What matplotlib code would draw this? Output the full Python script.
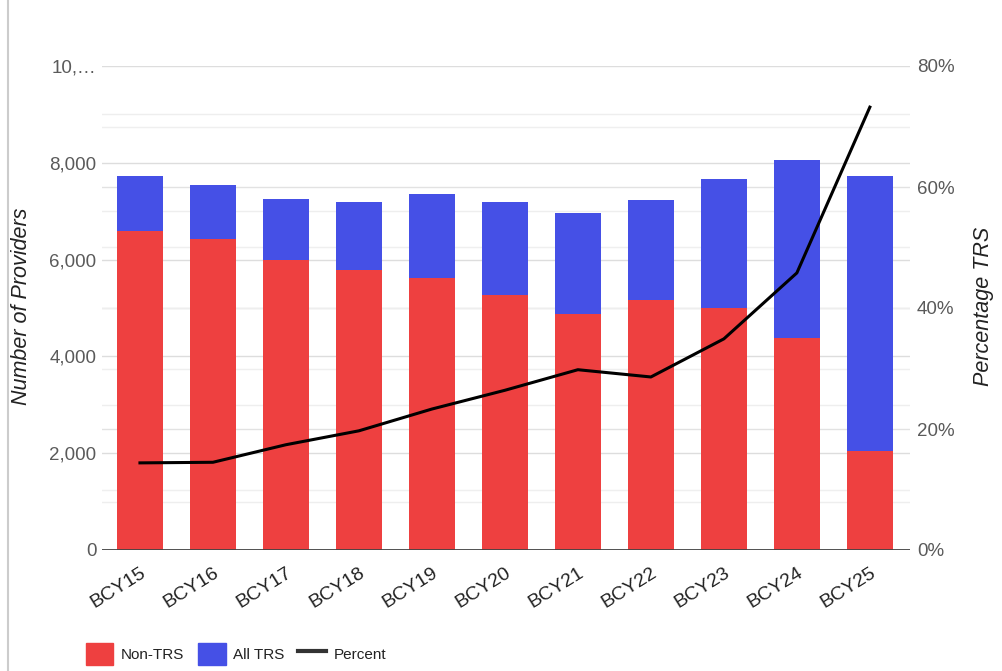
import matplotlib.pyplot as plt
import matplotlib.patches as mpatches
import matplotlib.lines as mlines
import numpy as np

plt.rcParams['font.family'] = ['Liberation Sans', 'DejaVu Sans']

years = ['BCY15', 'BCY16', 'BCY17', 'BCY18', 'BCY19', 'BCY20',
         'BCY21', 'BCY22', 'BCY23', 'BCY24', 'BCY25']
non_trs = [6600, 6430, 6000, 5790, 5630, 5260, 4870, 5160, 4990, 4370, 2040]
all_trs = [1130, 1120, 1260, 1410, 1730, 1940, 2100, 2080, 2680, 3690, 5690]
percent = [0.144, 0.145, 0.174, 0.197, 0.233, 0.264, 0.298, 0.286, 0.349, 0.458, 0.732]

red = '#EE4040'
blue = '#4550E6'

fig = plt.figure(figsize=(10.02, 6.71), dpi=100)
ax = fig.add_axes([102/1002, 1 - 550/671, 808/1002, 484/671])
ax2 = ax.twinx()

x = np.arange(len(years))
ax.bar(x, non_trs, width=0.63, color=red, zorder=3)
ax.bar(x, all_trs, width=0.63, bottom=non_trs, color=blue, zorder=3)

ymax_left = 10000
ymax_right = 0.8
ax.set_xlim(-0.52, 10.55)
ax.set_ylim(0, ymax_left)
ax.set_yticks([0, 2000, 4000, 6000, 8000, 10000])
ax.set_yticklabels(['0', '2,000', '4,000', '6,000', '8,000', '10,…'])
ax.set_yticks(np.arange(1000, 10000, 2000), minor=True)
ax.grid(axis='y', which='major', color='#dddddd', lw=1, zorder=0)
ax.grid(axis='y', which='minor', color='#eeeeee', lw=1, zorder=0)

# right-axis gridlines drawn on the left axes so they stay behind the bars
for t in [0.2, 0.4, 0.6]:
    ax.axhline(t / ymax_right * ymax_left, color='#e2e2e2', lw=1, zorder=0)
for t in [0.1, 0.3, 0.5, 0.7]:
    ax.axhline(t / ymax_right * ymax_left, color='#efefef', lw=1, zorder=0)
ax.axhline(0, color='#444444', lw=1.3, zorder=4)

ax2.set_ylim(0, ymax_right)
ax2.set_yticks([0, 0.2, 0.4, 0.6, 0.8])
ax2.set_yticklabels(['0%', '20%', '40%', '60%', '80%'])
ax2.plot(x, percent, color='black', lw=2.2, zorder=5)

ax.set_zorder(ax2.get_zorder() - 1)
ax2.patch.set_visible(False)

for a in (ax, ax2):
    for s in a.spines.values():
        s.set_visible(False)
    a.tick_params(axis='y', which='both', length=0, labelsize=13.5, labelcolor='#5a5a5a')

ax.tick_params(axis='y', pad=4)
ax2.tick_params(axis='y', pad=5)

ax.set_xticks(x)
ax.set_xticklabels(years, rotation=32, ha='right', rotation_mode='anchor',
                   fontsize=14, color='#222222')
ax.tick_params(axis='x', length=0, pad=10)

fig.text(22/1002, 1 - 306/671, 'Number of Providers', rotation=90, va='center', ha='center',
         fontsize=15.5, style='italic', color='#222222')
fig.text(983/1002, 1 - 306/671, 'Percentage TRS', rotation=90, va='center', ha='center',
         fontsize=15.5, style='italic', color='#222222')

handles = [mpatches.Patch(color=red, label='Non-TRS'),
           mpatches.Patch(color=blue, label='All TRS'),
           mlines.Line2D([], [], color='#333333', lw=3, label='Percent')]
fig.legend(handles=handles, loc='center left', bbox_to_anchor=(72/1002, 1 - 654/671),
           ncol=3, frameon=False, fontsize=11, handlelength=1.8, handleheight=1.8,
           handletextpad=0.5, columnspacing=0.9, labelcolor='#222222')

fig.add_artist(mlines.Line2D([8/1002, 8/1002], [0, 1], color='#cccccc', lw=1.5))

fig.savefig('out.png', dpi=100)
